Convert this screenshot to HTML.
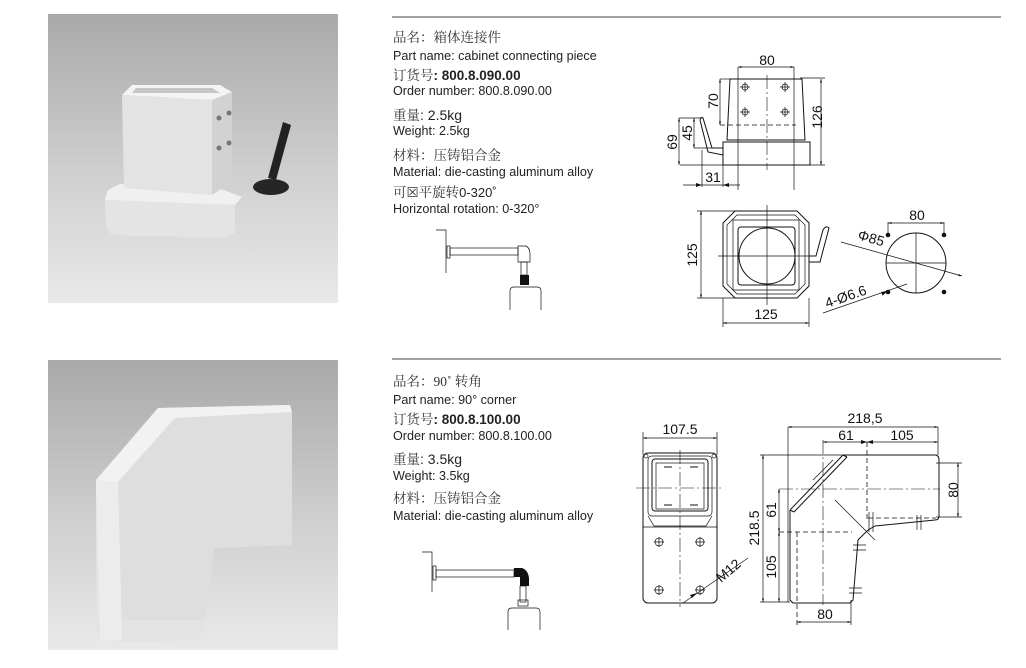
<!DOCTYPE html>
<html><head><meta charset="utf-8"><style>
html,body{margin:0;padding:0;background:#fff;}
svg{display:block;}
.cn{font-family:"Liberation Serif","Noto Serif CJK SC","Noto Sans CJK SC",serif;font-size:13.5px;fill:#333;}
.en{font-family:"Liberation Sans",sans-serif;font-size:12.6px;fill:#222;}
.bd{font-family:"Liberation Sans",sans-serif;font-size:13.5px;font-weight:bold;fill:#222;}
.dim{font-family:"Liberation Sans",sans-serif;font-size:14px;fill:#111;}
.l{stroke:#111;stroke-width:1;fill:none;}
.t{stroke:#111;stroke-width:0.7;fill:none;}
.d{stroke:#111;stroke-width:0.8;fill:none;stroke-dasharray:5 3;}
.c{stroke:#111;stroke-width:0.6;fill:none;stroke-dasharray:14 3 2 3;}
</style></head><body>
<svg width="1026" height="668" viewBox="0 0 1026 668" xmlns="http://www.w3.org/2000/svg">
<defs>
<linearGradient id="bg" x1="0" y1="0" x2="0" y2="1"><stop offset="0" stop-color="#a9a9a9"/><stop offset="0.55" stop-color="#cfcfcf"/><stop offset="1" stop-color="#e9e9e9"/></linearGradient>
<marker id="a" viewBox="0 0 10 10" refX="10" refY="5" markerWidth="7" markerHeight="5" orient="auto-start-reverse"><path d="M0,2 L10,5 L0,8 z" fill="#111"/></marker>
</defs>

<!-- photos -->
<rect x="48" y="14" width="290" height="289" fill="url(#bg)"/>
<rect x="48" y="360" width="290" height="290" fill="url(#bg)"/>
<!-- photo1 object -->
<polygon points="105,200 235,205 235,233 226,238 112,235 106,228" fill="#e4e4e4"/>
<polygon points="108,190 120,184 218,188 242,197 235,205 105,200" fill="#f0f0f0"/>
<polygon points="122,95 212,100 212,195 124,188" fill="#e3e3e3"/>
<polygon points="212,100 232,92 232,182 212,195" fill="#d2d2d2"/>
<polygon points="122,95 132,85 220,85 232,92 212,100" fill="#f4f4f4"/>
<polygon points="136,88 212,88 220,93 132,93" fill="#c6c6c6"/>
<circle cx="219" cy="118" r="2.5" fill="#777"/><circle cx="229" cy="113" r="2.5" fill="#777"/>
<circle cx="219" cy="148" r="2.5" fill="#777"/><circle cx="229" cy="143" r="2.5" fill="#777"/>
<path d="M283,122 L291,125 L276,180 L268,178 Z" fill="#222"/>
<ellipse cx="271" cy="187" rx="18" ry="8" fill="#262626"/>
<!-- photo2 object -->
<polygon points="96,480 158,408 290,405 292,545 214,548 205,622 200,640 100,642 96,630" fill="#e3e3e3"/>
<polygon points="96,480 158,408 290,405 292,412 175,418 118,482" fill="#f2f2f2"/>
<polygon points="118,482 175,418 292,412 292,545 214,548 205,620 122,620" fill="#dedede"/>
<polygon points="96,480 118,482 122,640 100,642" fill="#ececec"/>

<!-- section 1 text -->
<line x1="392" y1="17" x2="1001" y2="17" stroke="#444" stroke-width="1"/>
<text x="393" y="42" class="cn">品名：箱体连接件</text>
<text x="393" y="60" class="en">Part name: cabinet connecting piece</text>
<text x="393" y="80" class="cn">订货号<tspan class="bd">: 800.8.090.00</tspan></text>
<text x="393" y="95" class="en">Order number: 800.8.090.00</text>
<text x="393" y="120" class="cn">重量<tspan class="en" style="font-size:14px">: 2.5kg</tspan></text>
<text x="393" y="135" class="en">Weight: 2.5kg</text>
<text x="393" y="160" class="cn">材料：压铸铝合金</text>
<text x="393" y="176" class="en">Material: die-casting aluminum alloy</text>
<text x="393" y="197" class="cn">可☒平旋转<tspan class="en" style="font-size:13px">0-320˚</tspan></text>
<text x="393" y="213" class="en">Horizontal rotation: 0-320°</text>

<!-- small diagram 1 -->
<path class="t" d="M436,230 H446 V273"/>
<rect x="447" y="246" width="3" height="12" class="t"/>
<rect x="450" y="248" width="68" height="7" class="t"/>
<path class="t" d="M518,246 H526 Q530,248 530,254 V262 H518 Z"/>
<rect x="521" y="262" width="6" height="13" class="t"/>
<rect x="520" y="275" width="9" height="10" fill="#111"/>
<path class="t" d="M510,310 V291 Q510,287 514,287 H537 Q541,287 541,291 V310"/>

<!-- section 1 front view -->
<line x1="738" y1="67" x2="794" y2="67" class="t" marker-start="url(#a)" marker-end="url(#a)"/>
<text x="767" y="65" class="dim" text-anchor="middle">80</text>
<path class="t" d="M738,67 V190 M794,67 V190"/>
<path class="l" d="M730,79 H802 L805,140 H727 Z"/>
<path class="l" d="M723,142 H810 V165 H723 Z M727,140 H805"/>
<line x1="767" y1="75" x2="767" y2="170" class="c"/>
<path class="t" d="M680,165 H825 M800,78 H825"/>
<line x1="821" y1="79" x2="821" y2="165" class="t" marker-start="url(#a)" marker-end="url(#a)"/>
<text transform="translate(822,117) rotate(-90)" class="dim" text-anchor="middle">126</text>
<line x1="720" y1="79" x2="720" y2="125" class="t" marker-start="url(#a)" marker-end="url(#a)"/>
<path class="t" d="M720,79 H730"/>
<line x1="720" y1="125" x2="796" y2="125" class="d"/>
<text transform="translate(718,101) rotate(-90)" class="dim" text-anchor="middle">70</text>
<g class="t"><circle cx="745" cy="87" r="3"/><circle cx="785" cy="87" r="3"/><circle cx="745" cy="112" r="3"/><circle cx="785" cy="112" r="3"/></g>
<path class="t" d="M740,87 h10 M745,82 v10 M780,87 h10 M785,82 v10 M740,112 h10 M745,107 v10 M780,112 h10 M785,107 v10"/>
<path class="l" d="M703,118 L712,148 H723 M700,120 L708,152 L723,155 M700,120 Q701,116 703,118"/>
<path class="t" d="M679,118 H703 M694,148 H712"/>
<line x1="679" y1="118" x2="679" y2="165" class="t" marker-start="url(#a)" marker-end="url(#a)"/>
<text transform="translate(677,142) rotate(-90)" class="dim" text-anchor="middle">69</text>
<line x1="694" y1="118" x2="694" y2="148" class="t" marker-start="url(#a)" marker-end="url(#a)"/>
<text transform="translate(692,133) rotate(-90)" class="dim" text-anchor="middle">45</text>
<path class="t" d="M702,150 V187 M723,165 V187 M683,185 H740"/>
<path d="M702,185 l-6,-2 v4 z M723,185 l6,-2 v4 z" fill="#111"/>
<text x="713" y="182" class="dim" text-anchor="middle">31</text>

<!-- section 1 top view -->
<path class="l" d="M735,211 H797 L809,223 V286 L797,298 H735 L723,286 V223 Z"/>
<path class="t" d="M737,215 H795 L805,225 V284 L795,294 H737 L727,284 V225 Z"/>
<path class="t" d="M733,220 H799 V290 H733 Z"/>
<rect x="738" y="227" width="57" height="58" rx="3" class="l"/>
<circle cx="767" cy="256" r="28" class="l"/>
<line x1="767" y1="205" x2="767" y2="305" class="t"/>
<line x1="718" y1="256" x2="812" y2="256" class="t"/>
<path class="l" d="M809,256 H816 L823,230 Q826,225 829,228 L820,262 H809"/>
<path class="t" d="M697,211 H735 M697,298 H735"/>
<line x1="701" y1="211" x2="701" y2="298" class="t" marker-start="url(#a)" marker-end="url(#a)"/>
<text transform="translate(697,255) rotate(-90)" class="dim" text-anchor="middle">125</text>
<path class="t" d="M723,298 V327 M809,298 V327"/>
<line x1="723" y1="323" x2="809" y2="323" class="t" marker-start="url(#a)" marker-end="url(#a)"/>
<text x="766" y="319" class="dim" text-anchor="middle">125</text>

<!-- circle pattern -->
<circle cx="916" cy="263" r="30" class="l"/>
<path class="t" d="M916,233 V293 M886,263 H946"/>
<circle cx="888" cy="235" r="2.3" fill="#111"/><circle cx="944" cy="235" r="2.3" fill="#111"/>
<circle cx="888" cy="292" r="2.3" fill="#111"/><circle cx="944" cy="292" r="2.3" fill="#111"/>
<path class="t" d="M888,222 V233 M944,222 V233"/>
<line x1="888" y1="223" x2="944" y2="223" class="t" marker-start="url(#a)" marker-end="url(#a)"/>
<text x="917" y="220" class="dim" text-anchor="middle">80</text>
<line x1="841" y1="242" x2="962" y2="276" class="t" marker-end="url(#a)"/>
<text transform="translate(857,239) rotate(16)" class="dim">Φ85</text>
<line x1="823" y1="313" x2="907" y2="284" class="t"/>
<path d="M888,291 l-7,1 l1.5,3.5 z" fill="#111"/>
<text transform="translate(827,308) rotate(-19)" class="dim">4-Ø6.6</text>

<!-- section 2 text -->
<line x1="392" y1="359" x2="1001" y2="359" stroke="#444" stroke-width="1"/>
<text x="393" y="386" class="cn">品名：90˚ 转角</text>
<text x="393" y="404" class="en">Part name: 90° corner</text>
<text x="393" y="424" class="cn">订货号<tspan class="bd">: 800.8.100.00</tspan></text>
<text x="393" y="440" class="en">Order number: 800.8.100.00</text>
<text x="393" y="464" class="cn">重量<tspan class="en" style="font-size:14px">: 3.5kg</tspan></text>
<text x="393" y="480" class="en">Weight: 3.5kg</text>
<text x="393" y="503" class="cn">材料：压铸铝合金</text>
<text x="393" y="520" class="en">Material: die-casting aluminum alloy</text>

<!-- small diagram 2 -->
<path class="t" d="M422,552 H432 V592"/>
<rect x="433" y="566" width="3" height="14" class="t"/>
<rect x="436" y="570" width="78" height="7" class="t"/>
<path d="M514,568 H522 Q528,570 529,578 V586 H520 V577 H514 Z" fill="#111"/>
<rect x="520" y="586" width="6" height="16" class="t"/>
<rect x="518" y="600" width="10" height="6" class="t"/>
<path class="t" d="M508,630 V612 Q508,608 512,608 H536 Q540,608 540,612 V630"/>

<!-- section 2 front view -->
<line x1="643" y1="438" x2="717" y2="438" class="t" marker-start="url(#a)" marker-end="url(#a)"/>
<text x="680" y="434" class="dim" text-anchor="middle">107.5</text>
<path class="t" d="M643,432 V455 M717,432 V455"/>
<rect x="643" y="453" width="74" height="150" rx="5" class="l"/>
<rect x="648" y="456" width="64" height="60" rx="4" class="t"/>
<rect x="652" y="459" width="56" height="52" rx="3" class="l"/>
<rect x="656" y="463" width="48" height="46" class="t"/>
<path class="t" d="M648,516 L654,526 H706 L712,516 M643,527 H717"/>
<circle cx="646" cy="456" r="2" class="t"/><circle cx="714" cy="456" r="2" class="t"/>
<path d="M664,467 h8 M690,467 h8 M664,505 h8 M690,505 h8" stroke="#111" stroke-width="1"/>
<line x1="636" y1="488" x2="722" y2="488" class="c"/>
<line x1="680" y1="450" x2="680" y2="607" class="c"/>
<g class="t"><circle cx="659" cy="542" r="4"/><circle cx="700" cy="542" r="4"/><circle cx="659" cy="590" r="4"/><circle cx="700" cy="590" r="4"/></g>
<path class="t" d="M654,542 h10 M659,537 v10 M695,542 h10 M700,537 v10 M654,590 h10 M659,585 v10 M695,590 h10 M700,585 v10"/>
<line x1="683" y1="603" x2="748" y2="558" class="t"/>
<path d="M697,593 l-7,2 l2,3 z" fill="#111"/>
<text transform="translate(721,583) rotate(-40)" class="dim">M12</text>

<!-- section 2 side view -->
<path class="t" d="M788,427 V602 M938,427 V455"/>
<line x1="788" y1="427" x2="938" y2="427" class="t" marker-start="url(#a)" marker-end="url(#a)"/>
<text x="865" y="423" class="dim" text-anchor="middle">218,5</text>
<line x1="823" y1="442" x2="938" y2="442" class="t" marker-start="url(#a)" marker-end="url(#a)"/>
<path d="M867,442 l-6,-2 v4 z M867,442 l6,-2 v4 z" fill="#111"/>
<text x="846" y="440" class="dim" text-anchor="middle">61</text>
<text x="902" y="440" class="dim" text-anchor="middle">105</text>
<line x1="823" y1="440" x2="823" y2="605" class="c"/>
<line x1="867" y1="442" x2="867" y2="520" class="d"/>
<path class="l" d="M843,455 H936 Q939,456 939,460 V516 Q939,520 935,520 L875,526 L868,530 L858,540 L853,600 L850,603 H793 L790,600 V510 M790,510 L843,455 M847,457 L794,512 M790,510 L794,512 M843,455 L847,457"/>
<line x1="868" y1="518" x2="936" y2="518" class="d"/>
<path class="t" d="M869,512 V532 M873,512 V532 M917,515 V530 M921,515 V530 M853,545 H866 M853,550 H866 M849,588 H862 M849,593 H862"/>
<line x1="835" y1="500" x2="875" y2="540" class="t"/>
<line x1="813" y1="480" x2="833" y2="460" class="t"/>
<path class="t" d="M936,463 H962 M936,517 H962"/>
<line x1="958" y1="463" x2="958" y2="517" class="t" marker-start="url(#a)" marker-end="url(#a)"/>
<text transform="translate(958,490) rotate(-90)" class="dim" text-anchor="middle">80</text>
<path class="t" d="M760,455 H843 M760,602 H790"/>
<line x1="763" y1="455" x2="763" y2="602" class="t" marker-start="url(#a)" marker-end="url(#a)"/>
<text transform="translate(759,528) rotate(-90)" class="dim" text-anchor="middle">218.5</text>
<line x1="779" y1="489" x2="940" y2="489" class="c"/>
<line x1="779" y1="489" x2="779" y2="532" class="t" marker-start="url(#a)" marker-end="url(#a)"/>
<line x1="779" y1="532" x2="779" y2="602" class="t" marker-start="url(#a)" marker-end="url(#a)"/>
<text transform="translate(776,510) rotate(-90)" class="dim" text-anchor="middle">61</text>
<text transform="translate(776,567) rotate(-90)" class="dim" text-anchor="middle">105</text>
<line x1="779" y1="532" x2="852" y2="532" class="d"/>
<line x1="797" y1="532" x2="797" y2="625" class="d"/>
<line x1="851" y1="600" x2="851" y2="625" class="t"/>
<line x1="797" y1="622" x2="851" y2="622" class="t" marker-start="url(#a)" marker-end="url(#a)"/>
<text x="825" y="619" class="dim" text-anchor="middle">80</text>
</svg>
</body></html>
